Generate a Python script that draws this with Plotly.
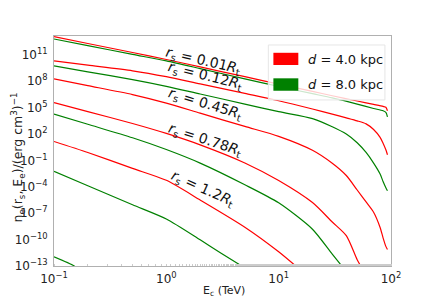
import plotly.graph_objects as go

# ---------------- data ----------------
E_full = [0.1, 0.2, 0.5, 1, 2, 5, 10, 20, 30, 40, 50, 60, 70, 80, 85, 90, 93]

E_r001 = [0.1, 0.2, 0.5, 1, 2, 5, 10, 20, 30, 50, 70, 85, 90, 93]
n_r001_d4 = [1.12e13, 1.9e12, 1.8e11, 2.9e10, 4.1e9, 3.2e8, 4.6e7, 6.8e6, 2.2e6, 5.6e5, 2.3e5, 1.35e5, 1.07e5, 4.3e4]
n_r001_d8 = [6.2e12, 1.1e12, 1.1e11, 2.0e10, 2.7e9, 1.8e8, 2.5e7, 3.8e6, 1.26e6, 2.5e5, 7.9e4, 4.3e4, 2.9e4, 8.9e3]

n_r012_d4 = [2.0e10, 6.5e9, 1.5e9, 3.2e8, 4.8e7, 4.0e6, 6.0e5, 6.9e4, 1.8e4, 6.8e3, 3.1e3, 1.4e3, 3.2e2, 41, 8.9, 1.6, 0.44]
n_r012_d8 = [5.4e9, 1.15e9, 1.5e8, 2.6e7, 3.5e6, 2.5e5, 3.4e4, 5.6e3, 6.6e2, 98, 10, 0.79, 0.049, 2.8e-3, 4.0e-4, 7.9e-5, 3.6e-5]

n_r045_d4 = [1.8e8, 3.1e7, 3.0e6, 3.2e5, 2.3e4, 7.2e2, 54, 1.4, 0.047, 1.9e-3, 4.3e-5, 1.9e-6, 1.3e-7, 2.4e-9, 1.6e-10, 1.7e-11, 7.4e-12]
E_r045_d8 = [0.1, 0.2, 0.5, 1, 2, 5, 10, 20, 30, 37]
n_r045_d8 = [1.8e4, 1.26e3, 37, 1.7, 0.049, 1.7e-4, 1.5e-6, 1.5e-9, 2.2e-12, 8e-14]

E_r078_d4 = [0.1, 0.2, 0.5, 1, 2, 5, 10, 20, 30, 40, 50, 55]
n_r078_d4 = [3.7e5, 3.5e4, 1.55e3, 1.15e2, 5.8, 0.051, 5.1e-4, 1.6e-6, 1.0e-8, 2.8e-10, 5.1e-13, 6e-14]
E_r078_d8 = [0.1, 0.2, 0.5, 1, 2, 3, 5]
n_r078_d8 = [5.6e-3, 1.3e-4, 9.1e-7, 2.2e-8, 9.5e-11, 3.5e-12, 6e-14]

E_r12_d4 = [0.1, 0.2, 0.5, 1, 2, 5, 10, 14.5]
n_r12_d4 = [14, 0.78, 0.0123, 5.4e-4, 3.2e-6, 2.6e-9, 4.2e-12, 8e-14]
E_r12_d8 = [0.1, 0.15, 0.16]
n_r12_d8 = [1.1e-12, 1.07e-13, 5e-14]

curve_labels = ["0.01", "0.12", "0.45", "0.78", "1.2"]
legend_labels = ["4.0", "8.0"]
x_tickvals = [0.1, 1, 10, 100]
x_ticktext = ["10<sup>−1</sup>", "10<sup>0</sup>", "10<sup>1</sup>", "10<sup>2</sup>"]
y_exps = [11, 8, 5, 2, -1, -4, -7, -10, -13]

RED = "#ff0000"
GREEN = "#008000"

series = [
    (E_r001, n_r001_d4, RED), (E_r001, n_r001_d8, GREEN),
    (E_full, n_r012_d4, RED), (E_full, n_r012_d8, GREEN),
    (E_full, n_r045_d4, RED), (E_r045_d8, n_r045_d8, GREEN),
    (E_r078_d4, n_r078_d4, RED), (E_r078_d8, n_r078_d8, GREEN),
    (E_r12_d4, n_r12_d4, RED), (E_r12_d8, n_r12_d8, GREEN),
]

fig = go.Figure()
for xs, ys, col in series:
    fig.add_trace(go.Scatter(x=xs, y=ys, mode="lines",
                             line=dict(color=col, width=1.2, shape="spline", smoothing=0.7),
                             showlegend=False, hoverinfo="skip"))

FONT = "DejaVu Sans"
# the page body adds an 8px margin; the figure is sized so it fits the window
fig.update_layout(
    width=428, height=292,
    margin=dict(l=46, r=45, t=28, b=34, autoexpand=False),
    paper_bgcolor="white", plot_bgcolor="white",
    font=dict(family=FONT, color="#222222"),
    showlegend=False,
)
fig.update_xaxes(
    type="log", range=[-1, 2], automargin=False,
    tickvals=x_tickvals, ticktext=x_ticktext,
    tickfont=dict(size=12, family=FONT, color="#222"),
    showgrid=False, zeroline=False,
    showline=True, linecolor="#b0b0b0", linewidth=1, mirror=True,
    ticks="", ticklabelstandoff=2,
    minor=dict(ticks="inside", ticklen=2, tickcolor="#cccccc", showgrid=False),
)
fig.update_yaxes(
    type="log", range=[-13, 13.13], automargin=False,
    tickvals=[10.0 ** e for e in y_exps],
    ticktext=["10<sup>%s</sup>" % (str(e).replace("-", "−")) for e in y_exps],
    tickfont=dict(size=12, family=FONT, color="#222"),
    showgrid=False, zeroline=False,
    showline=True, linecolor="#b0b0b0", linewidth=1, mirror=True,
    ticks="", ticklabelstandoff=3,
)

# curve labels
label_pos = [(0.442, 0.893, 13), (0.448, 0.826, 14), (0.448, 0.704, 17), (0.448, 0.548, 18), (0.442, 0.335, 24)]
for lab, (px, py, ang) in zip(curve_labels, label_pos):
    fig.add_annotation(xref="paper", yref="paper", x=px, y=py, showarrow=False,
                       xanchor="center", yanchor="middle",
                       text="<i>r</i><sub>s</sub> = %s<i>R</i><sub>t</sub>" % lab,
                       textangle=ang, font=dict(size=14, family=FONT, color="#111"))

# legend (matplotlib-style patches)
fig.add_shape(type="rect", xref="paper", yref="paper", x0=0.636, x1=0.982, y0=0.722, y1=0.961,
              fillcolor="rgba(255,255,255,0.8)", line=dict(color="#e6e6e6", width=1), layer="above")
for (y0, y1, col, lab, ty) in [(0.874, 0.927, RED, legend_labels[0], 0.898),
                               (0.762, 0.816, GREEN, legend_labels[1], 0.788)]:
    fig.add_shape(type="rect", xref="paper", yref="paper", x0=0.651, x1=0.725, y0=y0, y1=y1,
                  fillcolor=col, line=dict(color=col, width=0), layer="above")
    fig.add_annotation(xref="paper", yref="paper", x=0.866, y=ty, showarrow=False,
                       xanchor="center", yanchor="middle",
                       text="<i>d</i> = %s kpc" % lab, font=dict(size=13, family=FONT, color="#111"))

# axis titles
fig.add_annotation(xref="paper", yref="paper", x=0.504, y=-0.109, showarrow=False,
                   xanchor="center", yanchor="middle",
                   text="E<sub>c</sub> (TeV)", font=dict(size=11, family=FONT, color="#222"))
fig.add_annotation(xref="paper", yref="paper", x=-0.108, y=0.47, showarrow=False, textangle=-90,
                   xanchor="center", yanchor="middle",
                   text="n<sub>e</sub>(r<sub>s</sub>, E<sub>e</sub>)/(erg cm<sup>3</sup>)<sup>−1</sup>",
                   font=dict(size=12.5, family=FONT, color="#222"))

fig.write_html("out.html")
